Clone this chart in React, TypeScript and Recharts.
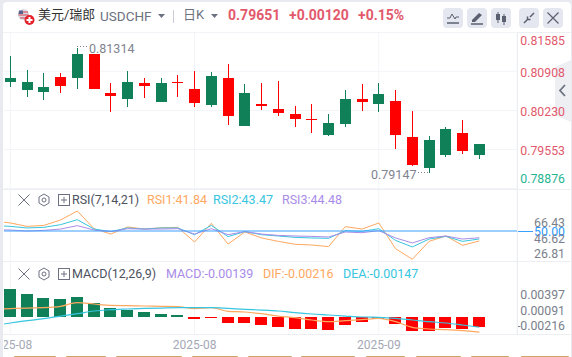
import { Bar, CartesianGrid, ComposedChart, Line, ReferenceLine, XAxis, YAxis } from "recharts"

const dates = [
  "2025-07-31", "2025-08-01", "2025-08-04", "2025-08-05", "2025-08-06", "2025-08-07", "2025-08-08",
  "2025-08-11", "2025-08-12", "2025-08-13", "2025-08-14", "2025-08-15", "2025-08-18", "2025-08-19",
  "2025-08-20", "2025-08-21", "2025-08-22", "2025-08-25", "2025-08-26", "2025-08-27", "2025-08-28",
  "2025-08-29", "2025-09-01", "2025-09-02", "2025-09-03", "2025-09-04", "2025-09-05", "2025-09-08",
  "2025-09-09", "2025-09-10",
]
const dateTicks = ["2025-08-01", "2025-08-18", "2025-09-02"]

// index 0 is the off-screen day, it only feeds the lines that run in from the left edge
const opens = [null, 0.80801, 0.80731, 0.80645, 0.80662, 0.81215, 0.80610, 0.80489, 0.80731, 0.80668, 0.80714, 0.80720, 0.80368, 0.80835, 0.80144, 0.80541, 0.80299, 0.80178, 0.80074, 0.80063, 0.80005, 0.80420, 0.80368, 0.80507, 0.79798, 0.79279, 0.79711, 0.79902, 0.79521, 0.79642]
const closes = [null, 0.80731, 0.80593, 0.80558, 0.80818, 0.80801, 0.81215, 0.80541, 0.80437, 0.80714, 0.80386, 0.80731, 0.80610, 0.80334, 0.80801, 0.79971, 0.80334, 0.80247, 0.80161, 0.80074, 0.79798, 0.79988, 0.80420, 0.80334, 0.80386, 0.79763, 0.79227, 0.79452, 0.79832, 0.79452]
const highs = [null, 0.81181, 0.80939, 0.80887, 0.80887, 0.81314, 0.81215, 0.80714, 0.80922, 0.80801, 0.80801, 0.80852, 0.80922, 0.80904, 0.81043, 0.80697, 0.80714, 0.80749, 0.80299, 0.80334, 0.80161, 0.80576, 0.80680, 0.80714, 0.80576, 0.80213, 0.79780, 0.79936, 0.80057, 0.79642]
const lows = [null, 0.80645, 0.80472, 0.80420, 0.80541, 0.80610, 0.80610, 0.80213, 0.80299, 0.80455, 0.80386, 0.80472, 0.80299, 0.80299, 0.79988, 0.79971, 0.80247, 0.80144, 0.79936, 0.79832, 0.79782, 0.79943, 0.80213, 0.80213, 0.79556, 0.79262, 0.79147, 0.79417, 0.79469, 0.79383]

const rsi1 = [58.2, 56.6, 53.8, 54.6, 59.0, 66.43, 51.9, 47.5, 53.3, 51.6, 52.7, 53.0, 41.0, 56.3, 39.3, 49.2, 44.3, 41.5, 39.1, 38.5, 37.2, 53.6, 51.6, 56.6, 35.5, 26.81, 41.5, 45.9, 38.3, 41.84]
const rsi2 = [54.6, 53.8, 52.5, 53.0, 55.2, 59.3, 51.6, 49.5, 52.5, 51.6, 52.5, 52.5, 47.0, 54.6, 45.4, 49.5, 47.0, 45.9, 44.8, 44.3, 44.0, 50.3, 49.7, 51.9, 42.3, 36.9, 43.4, 45.6, 41.5, 43.47]
const rsi3 = [51.1, 50.8, 50.0, 50.5, 51.6, 54.4, 50.8, 49.5, 51.9, 51.6, 51.6, 51.9, 47.5, 51.9, 47.0, 49.5, 47.5, 46.4, 45.9, 45.6, 45.1, 49.2, 48.6, 50.3, 44.3, 40.2, 44.5, 45.9, 43.4, 44.48]

const macd = [null, 0.00397, 0.0033, 0.00273, 0.00258, 0.00287, 0.00201, 0.00129, 0.00105, 0.00072, 0.00043, 0.00029, -0.00029, -0.0001, -0.00086, -0.00086, -0.00115, -0.00144, -0.00172, -0.00172, -0.00187, -0.00115, -0.00072, -0.00029, -0.001, -0.00201, -0.00201, -0.00158, -0.00172, -0.00139]
const dif = [0.0011, 0.0012, 0.00129, 0.00134, 0.00153, 0.00206, 0.00187, 0.00167, 0.00163, 0.00158, 0.00153, 0.00148, 0.0012, 0.00134, 0.00081, 0.00072, 0.00048, 0.00014, -0.0001, -0.00043, -0.00067, -0.00053, -0.00038, -0.00019, -0.00067, -0.00148, -0.00172, -0.00182, -0.00196, -0.00216]
const dea = [-0.00125, -0.00086, -0.00053, -0.00024, 0.00014, 0.00048, 0.00086, 0.00105, 0.00115, 0.00124, 0.00129, 0.00134, 0.00134, 0.00134, 0.00124, 0.0011, 0.001, 0.00086, 0.00062, 0.00043, 0.00029, 0.00014, 0, -0.00005, -0.00019, -0.00043, -0.00067, -0.00086, -0.00115, -0.00147]

const priceTicks = [0.81585, 0.80908, 0.8023, 0.79553, 0.78876]
const rsiTicks = [66.43, 50, 46.62, 26.81]
const macdTicks = [0.00397, 0.00091, -0.00216]
const tabs = [[14, 42], [66, 40], [116, 66], [192, 46], [248, 44], [301, 54], [366, 39], [416, 45], [471, 38], [521, 48]]

const UP = "#ff0000"
const DOWN = "#108058"
const ORANGE = "#ffa860"
const CYAN = "#37c5e0"
const PURPLE = "#a98ce8"
const GRID = "#f3f4f8"
const BORDER = "#eceef3"
const FONT = "Roboto, 'Noto Sans CJK SC', sans-serif"

const rows = dates.map((date, i) => {
  const o = opens[i]
  const c = closes[i]
  const hasCandle = o !== null && c !== null
  return {
    date,
    wick: hasCandle ? [lows[i], highs[i]] : null,
    body: hasCandle ? [Math.min(o, c), Math.max(o, c)] : null,
    candleColor: hasCandle && c < o ? DOWN : UP,
    rsi1: rsi1[i],
    rsi2: rsi2[i],
    rsi3: rsi3[i],
    macd: macd[i],
    macdColor: (macd[i] ?? 0) < 0 ? UP : DOWN,
    dif: dif[i],
    dea: dea[i],
  }
})

function CandleRect(props: any) {
  const { x, y, width, height, payload } = props
  if (!height && height !== 0) return null
  return (
    <rect
      x={Math.round(x)}
      y={Math.round(Math.min(y, y + height))}
      width={Math.round(width)}
      height={Math.max(1, Math.round(Math.abs(height)))}
      fill={payload.candleColor}
      shapeRendering="crispEdges"
    />
  )
}

function MacdRect(props: any) {
  const { x, y, width, height, payload } = props
  if (!height) return null
  return (
    <rect
      x={Math.round(x)}
      y={Math.round(Math.min(y, y + height))}
      width={Math.round(width)}
      height={Math.max(1, Math.round(Math.abs(height)))}
      fill={payload.macdColor}
      shapeRendering="crispEdges"
    />
  )
}

// the vendor chart pushes its end labels inwards, so each label sits a bit away from its tick
function makeTick(digits: number, offsets: Record<string, number>, colors: Record<string, string>, fallback: string) {
  return function AxisTick(props: any) {
    const { y, payload } = props
    const key = payload.value.toFixed(digits)
    return (
      <text
        x={561}
        y={y + (offsets[key] ?? 0)}
        dy={4}
        textAnchor="end"
        fontFamily={FONT}
        fontSize={12.3}
        fill={colors[key] ?? fallback}
      >
        {key}
      </text>
    )
  }
}

const PriceTick = makeTick(5, { "0.81585": 8.7, "0.80908": 1.5, "0.80230": 2, "0.79553": 1.7, "0.78876": -9.5 }, { "0.78876": "#1fb592" }, "#e2596c")
const RsiTick = makeTick(2, { "66.43": 11.7, "50.00": 0.7, "46.62": 3.9, "26.81": -5.3 }, { "50.00": "#2f9bff" }, "#7b7f8c")
const MacdTick = makeTick(5, { "0.00397": 5.7, "0.00091": 0, "-0.00216": -6 }, {}, "#7b7f8c")

function Txt({ x, cy, color, size = 12.5, weight = 400, children }: any) {
  return (
    <div
      style={{
        position: "absolute", left: x, top: cy - 10, height: 20, lineHeight: "20px", whiteSpace: "nowrap",
        color, fontSize: size, fontWeight: weight, fontFamily: FONT,
      }}
    >
      {children}
    </div>
  )
}

function PanelIcons({ cy }: { cy: number }) {
  return (
    <svg style={{ position: "absolute", left: 16, top: cy - 8 }} width={56} height={16} fill="none" stroke="#6d7280" strokeWidth={1}>
      <path d="M2.5 2.5 L13.5 13.5 M13.5 2.5 L2.5 13.5" />
      <path d="M28 2 L33 5 L33 11 L28 14 L23 11 L23 5 Z" />
      <circle cx={28} cy={8} r={2} />
      <rect x={42.5} y={2.5} width={11} height={11} />
      <path d="M48 5 V11 M45 8 H51" />
    </svg>
  )
}

function ToolButton({ x, children }: any) {
  return (
    <svg style={{ position: "absolute", left: x, top: 8 }} width={20} height={20}>
      <rect width={20} height={20} rx={4} fill="#e4e7ef" />
      {children}
    </svg>
  )
}

function Caret({ x }: { x: number }) {
  return (
    <svg style={{ position: "absolute", left: x, top: 14 }} width={7} height={5}>
      <path d="M0 0 H7 L3.5 4 Z" fill="#6d7280" />
    </svg>
  )
}

const AXIS_WIDTH = 55
const SVG_WIDTH = 568
const LEFT_OVERHANG = -18.8
const RIGHT_GAP = 29.3
const chartMargin = { top: 0, right: 0, bottom: 0, left: LEFT_OVERHANG }
const xPadding = { left: 0, right: RIGHT_GAP }

export default function App() {
  return (
    <div style={{ position: "fixed", left: 0, top: 0, width: 572, height: 357, background: "#e8eaf0", overflow: "hidden" }}>
      <div style={{ position: "absolute", left: 3, top: 2, width: 568, height: 355, background: "#fff", borderRadius: "4px 4px 0 0" }} />

      {/* collapse tab, sits under the price labels */}
      <svg style={{ position: "absolute", left: 555, top: 60 }} width={17} height={63}>
        <path d="M0 7 L16 0 V62 L0 55 Z" fill="#eeeff3" />
        <path d="M10 15 L5 20.5 L10 26" transform="translate(0,10)" fill="none" stroke="#6d7280" strokeWidth={1.8} />
      </svg>

      {/* header */}
      <svg style={{ position: "absolute", left: 17, top: 8 }} width={18} height={18}>
        <circle cx={6.5} cy={6.5} r={5.5} fill="#d9dbe6" />
        <path d="M2 4 H11 M1.5 7 H11.5 M3 10 H10" stroke="#d9737f" strokeWidth={1.3} />
        <path d="M2 2.5 H6 V6 H1.5 Z" fill="#59608c" />
        <circle cx={12.5} cy={12} r={5} fill="#e4222c" />
        <path d="M12.5 9 V15 M9.5 12 H15.5" stroke="#fff" strokeWidth={2} />
      </svg>
      <Txt x={38} cy={15} color="#333" size={13}>美元/瑞郎</Txt>
      <Txt x={100} cy={16} color="#6d7280" size={13.5}>USDCHF</Txt>
      <Caret x={158} />
      <div style={{ position: "absolute", left: 173, top: 10, width: 1, height: 13, background: "#c9ccd6" }} />
      <Txt x={183} cy={15} color="#6d7280" size={13}>日K</Txt>
      <Caret x={211} />
      <Txt x={228} cy={15} color="#e2596c" size={14} weight={700}>0.79651</Txt>
      <Txt x={289} cy={15} color="#e2596c" size={14} weight={700}>+0.00120</Txt>
      <Txt x={358} cy={15} color="#e2596c" size={14} weight={700}>+0.15%</Txt>

      <ToolButton x={443}>
        <path d="M4 10 L7 10 L9 6 L12 11 L13 9 L16 9" fill="none" stroke="#5b6070" />
        <path d="M4 15 H16" stroke="#5b6070" strokeWidth={1.5} />
      </ToolButton>
      <ToolButton x={467}>
        <path d="M5 12 L12 5 L15 7 L8 14 L5 14 Z" fill="#5b6070" />
        <path d="M4 16 H16" stroke="#5b6070" strokeWidth={1.5} />
      </ToolButton>
      <ToolButton x={491}>
        <path d="M7 4 V15 M13 6 V17" stroke="#5b6070" />
        <rect x={5} y={6} width={4} height={6} fill="#5b6070" />
        <rect x={11} y={8} width={4} height={6} fill="#5b6070" />
      </ToolButton>
      <ToolButton x={519}>
        <path d="M5 15 L9 11 M11 9 L15 5 M8.5 11.5 L8.5 8.5 M8.5 11.5 L11.5 11.5" stroke="#5b6070" strokeWidth={1.5} fill="none" />
      </ToolButton>
      <ToolButton x={543}>
        <path d="M4.5 4.5 L15.5 15.5 M15.5 4.5 L4.5 15.5" stroke="#5b6070" strokeWidth={1.2} />
      </ToolButton>

      {/* panel rules */}
      <div style={{ position: "absolute", left: 3, top: 32, width: 568, height: 1, background: BORDER }} />
      <div style={{ position: "absolute", left: 3, top: 189, width: 568, height: 1, background: BORDER }} />
      <div style={{ position: "absolute", left: 3, top: 261, width: 568, height: 1, background: BORDER }} />
      <div style={{ position: "absolute", left: 3, top: 334, width: 568, height: 1, background: BORDER }} />

      {/* candles */}
      <div style={{ position: "absolute", left: 4, top: 32 }}>
        <ComposedChart width={SVG_WIDTH} height={157} data={rows} margin={chartMargin}>
          <CartesianGrid xAxisId="body" stroke={GRID} />
          <XAxis xAxisId="body" dataKey="date" hide padding={xPadding} ticks={dateTicks} interval={0} />
          <XAxis xAxisId="wick" dataKey="date" hide padding={xPadding} />
          <YAxis
            orientation="right"
            width={AXIS_WIDTH}
            domain={[0.78868, 0.8159]}
            ticks={priceTicks}
            interval={0}
            allowDataOverflow
            axisLine={false}
            tickLine={false}
            tick={PriceTick}
          />
          <Bar xAxisId="wick" dataKey="wick" barSize={1} shape={CandleRect} isAnimationActive={false} />
          <Bar xAxisId="body" dataKey="body" barSize={11} shape={CandleRect} isAnimationActive={false} />
        </ComposedChart>
      </div>

      {/* RSI */}
      <div style={{ position: "absolute", left: 4, top: 190 }}>
        <ComposedChart width={SVG_WIDTH} height={71} data={rows} margin={chartMargin}>
          <CartesianGrid xAxisId="x" stroke={GRID} horizontal={false} />
          <XAxis xAxisId="x" dataKey="date" scale="band" hide padding={xPadding} ticks={dateTicks} interval={0} />
          <YAxis
            orientation="right"
            width={AXIS_WIDTH}
            domain={[25.4, 83.64]}
            ticks={rsiTicks}
            interval={0}
            axisLine={false}
            tickLine={false}
            tick={RsiTick}
          />
          <Line xAxisId="x" dataKey="rsi1" stroke={ORANGE} strokeWidth={1} dot={false} isAnimationActive={false} />
          <Line xAxisId="x" dataKey="rsi2" stroke={CYAN} strokeWidth={1} dot={false} isAnimationActive={false} />
          <Line xAxisId="x" dataKey="rsi3" stroke={PURPLE} strokeWidth={1} dot={false} isAnimationActive={false} />
          <ReferenceLine xAxisId="x" y={50} stroke="#3aa0ff" strokeWidth={1} />
        </ComposedChart>
      </div>

      {/* MACD */}
      <div style={{ position: "absolute", left: 4, top: 262 }}>
        <ComposedChart width={SVG_WIDTH} height={94} data={rows} margin={chartMargin}>
          <CartesianGrid xAxisId="x" stroke={GRID} horizontal={false} />
          <XAxis
            xAxisId="x"
            dataKey="date"
            padding={xPadding}
            ticks={dateTicks}
            interval={0}
            height={22}
            axisLine={false}
            tickLine={false}
            tickFormatter={(d: string) => d.slice(0, 7)}
            tick={{ fontSize: 12, fontFamily: FONT, fill: "#a4a7b5", dy: -2 }}
          />
          <YAxis
            orientation="right"
            width={AXIS_WIDTH}
            domain={[-0.00244, 0.0079]}
            ticks={macdTicks}
            interval={0}
            axisLine={false}
            tickLine={false}
            tick={MacdTick}
          />
          <Bar xAxisId="x" dataKey="macd" barSize={12} shape={MacdRect} isAnimationActive={false} />
          <Line xAxisId="x" type="monotone" dataKey="dif" stroke={ORANGE} strokeWidth={1.2} dot={false} isAnimationActive={false} />
          <Line xAxisId="x" type="monotone" dataKey="dea" stroke={CYAN} strokeWidth={1.2} dot={false} isAnimationActive={false} />
        </ComposedChart>
      </div>

      {/* right axis rule, blue 50 stub */}
      <div style={{ position: "absolute", left: 517, top: 33, width: 1, height: 302, background: BORDER }} />
      <div style={{ position: "absolute", left: 518, top: 231, width: 15, height: 1, background: "#3aa0ff" }} />

      {/* extreme price notes */}
      <Txt x={89} cy={49} color="#7f8390">0.81314</Txt>
      <svg style={{ position: "absolute", left: 77, top: 46 }} width={12} height={2}>
        <path d="M0 .5 H11" stroke="#7f8390" strokeDasharray="1 2" />
      </svg>
      <Txt x={371} cy={175} color="#7f8390">0.79147</Txt>
      <svg style={{ position: "absolute", left: 418, top: 172 }} width={12} height={2}>
        <path d="M0 .5 H11" stroke="#7f8390" strokeDasharray="1 2" />
      </svg>

      {/* indicator titles */}
      <PanelIcons cy={200} />
      <Txt x={72} cy={200} color="#4d5260">RSI(7,14,21)</Txt>
      <Txt x={147} cy={200} color={ORANGE}>RSI1:41.84</Txt>
      <Txt x={213} cy={200} color={CYAN}>RSI2:43.47</Txt>
      <Txt x={282} cy={200} color={PURPLE}>RSI3:44.48</Txt>

      <PanelIcons cy={274} />
      <Txt x={72} cy={274} color="#4d5260">MACD(12,26,9)</Txt>
      <Txt x={166} cy={274} color={PURPLE}>MACD:-0.00139</Txt>
      <Txt x={263} cy={274} color={ORANGE}>DIF:-0.00216</Txt>
      <Txt x={343} cy={274} color={CYAN}>DEA:-0.00147</Txt>

      {/* tab row cut off by the bottom edge */}
      {tabs.map(([x, w]) => (
        <div key={x} style={{ position: "absolute", left: x, top: 356, width: w, height: 2, background: "#cda468", borderRadius: 2 }} />
      ))}
    </div>
  )
}
